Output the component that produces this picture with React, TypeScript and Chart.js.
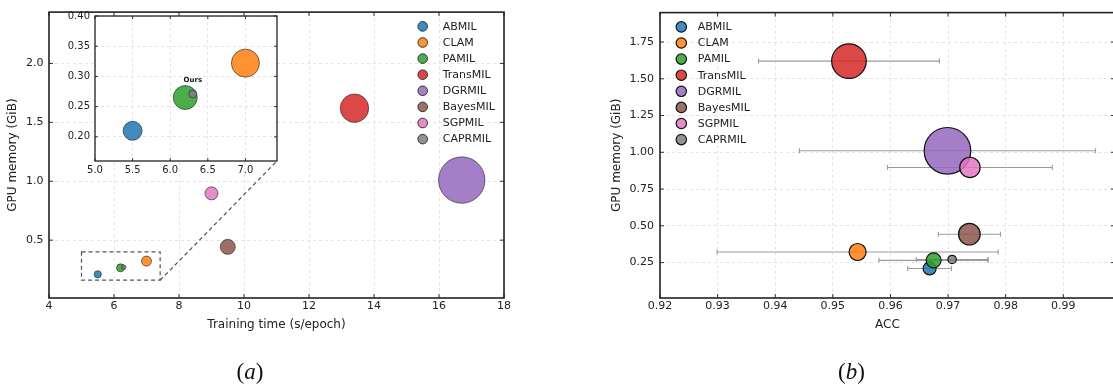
import React, { useEffect, useRef } from "react";
import { Chart, registerables } from "chart.js";

Chart.register(...registerables);

// ---------------- data ----------------
const methods = ["ABMIL", "CLAM", "PAMIL", "TransMIL", "DGRMIL", "BayesMIL", "SGPMIL", "CAPRMIL"];
const colors = ["#1f77b4", "#ff7f0e", "#2ca02c", "#d62728", "#9467bd", "#8c564b", "#e377c2", "#7f7f7f"];
const trainTime = [5.5, 7.0, 6.2, 13.4, 16.7, 9.5, 9.0, 6.3];
const gpuMemory = [0.21, 0.322, 0.265, 1.62, 1.01, 0.443, 0.897, 0.271];
const accMean = [0.9668, 0.9543, 0.9675, 0.9528, 0.9699, 0.9737, 0.9738, 0.9707];
const accStd = [0.0038, 0.0244, 0.0095, 0.0157, 0.0257, 0.0054, 0.0143, 0.0062];
// marker radii (visual encoding of each chart)
const bubbleA = [3.6, 5.0, 4.0, 14.2, 23.2, 7.5, 6.5, 2.2];
const bubbleInset = [9.5, 14.0, 12.0, 14.0, 23.0, 7.5, 6.5, 4.0];
const bubbleB = [6.5, 8.5, 7.5, 17.3, 23.3, 10.8, 10.2, 4.2];

const timeTicks = [4, 6, 8, 10, 12, 14, 16, 18];
const memTicksA = [0.5, 1.0, 1.5, 2.0];
const insetTimeTicks = [5.0, 5.5, 6.0, 6.5, 7.0];
const insetMemTicks = [0.2, 0.25, 0.3, 0.35, 0.4];
const accTicks = [0.92, 0.93, 0.94, 0.95, 0.96, 0.97, 0.98, 0.99];
const memTicksB = [0.25, 0.5, 0.75, 1.0, 1.25, 1.5, 1.75];

const rangeTimeA = [4, 18];
const rangeMemA = [0.009, 2.4355];
const zoomTime = [5.0, 7.42];
const zoomMem = [0.16, 0.4];
const rangeAcc = [0.92, 0.99898];
const rangeMemB = [0.009, 1.95];
const oursIndex = 7;
const oursLabel = "Ours";

// ---------------- layout ----------------
const FONT = "'DejaVu Sans', sans-serif";
const INSET = { left: 60, top: 5, width: 230, height: 180, padLeft: 35, padTop: 9.7, padRight: 13, xHeight: 24 };

function rgba(hex: string, a: number) {
  const n = parseInt(hex.slice(1), 16);
  return `rgba(${(n >> 16) & 255},${(n >> 8) & 255},${n & 255},${a})`;
}

function bubbleDatasets(xs: number[], ys: number[], rs: number[], edge: string, bw: number) {
  return methods.map((m, i) => ({
    label: m,
    data: [{ x: xs[i], y: ys[i], r: rs[i] }],
    backgroundColor: rgba(colors[i], 0.85),
    borderColor: edge,
    borderWidth: bw,
    order: methods.length - i,
  }));
}

function axis(range: number[], ticks: number[], dec: number, fontSize: number, pad: number, extra: any = {}) {
  return {
    type: "linear",
    min: range[0],
    max: range[1],
    afterBuildTicks: (s: any) => {
      s.ticks = ticks.map((v) => ({ value: v }));
    },
    ticks: {
      autoSkip: false,
      maxRotation: 0,
      minRotation: 0,
      padding: pad,
      color: "#222",
      font: { family: FONT, size: fontSize },
      callback: (v: any) => Number(v).toFixed(dec),
    },
    grid: { color: "#dedede", lineWidth: 0.8, drawTicks: false },
    border: { display: false, dash: [3, 3] },
    ...extra,
  };
}

const framePlugin = {
  id: "frame",
  afterDraw(chart: any, _a: any, opts: any) {
    const { ctx, chartArea } = chart;
    const { left, right, top, bottom } = chartArea;
    const xs = chart.scales.x;
    const ys = chart.scales.y;
    const L = opts.tickLen ?? 4;
    ctx.save();
    ctx.strokeStyle = "#333";
    ctx.lineWidth = opts.tickWidth ?? 1;
    ctx.beginPath();
    xs.ticks.forEach((t: any) => {
      const p = xs.getPixelForValue(t.value);
      ctx.moveTo(p, bottom);
      ctx.lineTo(p, bottom - L);
      ctx.moveTo(p, top);
      ctx.lineTo(p, top + L);
    });
    ys.ticks.forEach((t: any) => {
      const p = ys.getPixelForValue(t.value);
      ctx.moveTo(left, p);
      ctx.lineTo(left + L, p);
      ctx.moveTo(right, p);
      ctx.lineTo(right - L, p);
    });
    ctx.stroke();
    ctx.strokeStyle = "#222";
    ctx.lineWidth = opts.lineWidth ?? 1.5;
    ctx.strokeRect(left, top, right - left, bottom - top);
    ctx.restore();
  },
};

const dotLegendPlugin = {
  id: "dotLegend",
  afterDraw(chart: any, _a: any, opts: any) {
    if (!opts || !opts.show) return;
    const { ctx, chartArea } = chart;
    const x0 = opts.fromRight ? chartArea.right + opts.dx : chartArea.left + opts.dx;
    const y0 = chartArea.top + opts.dy;
    ctx.save();
    chart.data.datasets.forEach((ds: any, i: number) => {
      const y = y0 + i * opts.spacing;
      ctx.beginPath();
      ctx.arc(x0, y, opts.r, 0, Math.PI * 2);
      ctx.fillStyle = ds.backgroundColor;
      ctx.fill();
      ctx.lineWidth = opts.bw;
      ctx.strokeStyle = opts.edge;
      ctx.stroke();
      ctx.fillStyle = "#222";
      ctx.font = `${opts.fontSize}px ${FONT}`;
      ctx.textAlign = "left";
      ctx.textBaseline = "middle";
      ctx.fillText(ds.label, x0 + opts.gap, y + 0.5);
    });
    ctx.restore();
  },
};

const whiteAreaPlugin = {
  id: "whiteArea",
  beforeDraw(chart: any, _a: any, opts: any) {
    if (!opts || !opts.show) return;
    const { ctx, chartArea } = chart;
    ctx.save();
    ctx.fillStyle = "#fff";
    ctx.fillRect(chartArea.left, chartArea.top, chartArea.right - chartArea.left, chartArea.bottom - chartArea.top);
    ctx.restore();
  },
};

const zoomBoxPlugin = {
  id: "zoomBox",
  afterDatasetsDraw(chart: any, _a: any, opts: any) {
    if (!opts || !opts.show) return;
    const { ctx } = chart;
    const xs = chart.scales.x;
    const ys = chart.scales.y;
    const x0 = xs.getPixelForValue(zoomTime[0]);
    const x1 = xs.getPixelForValue(zoomTime[1]);
    const y0 = ys.getPixelForValue(zoomMem[0]);
    const y1 = ys.getPixelForValue(zoomMem[1]);
    ctx.save();
    ctx.strokeStyle = "#555";
    ctx.lineWidth = 1.2;
    ctx.setLineDash([4, 3]);
    ctx.strokeRect(x0, y1, x1 - x0, y0 - y1);
    ctx.beginPath();
    ctx.moveTo(x1, y0);
    ctx.lineTo(opts.cornerX, opts.cornerY);
    ctx.stroke();
    ctx.restore();
  },
};

const errorBarPlugin = {
  id: "errorBars",
  beforeDatasetsDraw(chart: any, _a: any, opts: any) {
    if (!opts || !opts.show) return;
    const { ctx } = chart;
    const xs = chart.scales.x;
    const ys = chart.scales.y;
    ctx.save();
    ctx.strokeStyle = "rgba(130,130,130,0.8)";
    ctx.lineWidth = 1.1;
    ctx.beginPath();
    methods.forEach((_m, i) => {
      const a = xs.getPixelForValue(accMean[i] - accStd[i]);
      const b = xs.getPixelForValue(accMean[i] + accStd[i]);
      const y = ys.getPixelForValue(gpuMemory[i]);
      ctx.moveTo(a, y);
      ctx.lineTo(b, y);
      ctx.moveTo(a, y - 2.5);
      ctx.lineTo(a, y + 2.5);
      ctx.moveTo(b, y - 2.5);
      ctx.lineTo(b, y + 2.5);
    });
    ctx.stroke();
    ctx.restore();
  },
};

const oursPlugin = {
  id: "oursLabel",
  afterDatasetsDraw(chart: any, _a: any, opts: any) {
    if (!opts || !opts.show) return;
    const { ctx } = chart;
    const x = chart.scales.x.getPixelForValue(trainTime[oursIndex]);
    const y = chart.scales.y.getPixelForValue(gpuMemory[oursIndex]);
    ctx.save();
    ctx.fillStyle = "#111";
    ctx.font = `bold 7px ${FONT}`;
    ctx.textAlign = "center";
    ctx.textBaseline = "middle";
    ctx.fillText(oursLabel, x, y - 14);
    ctx.restore();
  },
};

Chart.register(framePlugin, dotLegendPlugin, whiteAreaPlugin, zoomBoxPlugin, errorBarPlugin, oursPlugin);

function mainConfig(): any {
  return {
    type: "bubble",
    data: { datasets: bubbleDatasets(trainTime, gpuMemory, bubbleA, "rgba(40,40,40,0.8)", 0.8) },
    options: {
      animation: false,
      responsive: false,
      events: [],
      layout: { autoPadding: false, padding: { left: 0, top: 4, right: 56, bottom: 50 } },
      scales: {
        x: axis(rangeTimeA, timeTicks, 0, 11, 2, {
          afterFit: (s: any) => {
            s.height = 40;
          },
          title: {
            display: true,
            text: "Training time (s/epoch)",
            color: "#222",
            font: { family: FONT, size: 12 },
            padding: { top: 0, bottom: 5.8 },
          },
        }),
        y: axis(rangeMemA, memTicksA, 1, 11, 5.5, {
          afterFit: (s: any) => {
            s.width = 49;
          },
          title: {
            display: true,
            text: "GPU memory (GiB)",
            color: "#222",
            font: { family: FONT, size: 12 },
            padding: { top: 6.1, bottom: 0 },
          },
        }),
      },
      plugins: {
        legend: { display: false },
        tooltip: { enabled: false },
        frame: { tickLen: 4, lineWidth: 1.6 },
        dotLegend: { show: true, fromRight: true, dx: -81.3, dy: 14.3, spacing: 16.1, r: 4.8, gap: 20, fontSize: 11, bw: 1, edge: "#333" },
        zoomBox: {
          show: true,
          cornerX: INSET.left + INSET.width - INSET.padRight,
          cornerY: INSET.top + INSET.height - INSET.xHeight,
        },
      },
    },
  };
}

function insetConfig(): any {
  return {
    type: "bubble",
    data: { datasets: bubbleDatasets(trainTime, gpuMemory, bubbleInset, "rgba(40,40,40,0.8)", 0.8) },
    options: {
      animation: false,
      responsive: false,
      events: [],
      layout: { autoPadding: false, padding: { left: 0, top: INSET.padTop, right: INSET.padRight, bottom: 0 } },
      scales: {
        x: axis(zoomTime, insetTimeTicks, 1, 10, 3, {
          afterFit: (s: any) => {
            s.height = INSET.xHeight;
          },
        }),
        y: axis(zoomMem, insetMemTicks, 2, 10, 5, {
          afterFit: (s: any) => {
            s.width = INSET.padLeft;
          },
        }),
      },
      plugins: {
        legend: { display: false },
        tooltip: { enabled: false },
        whiteArea: { show: true },
        frame: { tickLen: 3, lineWidth: 1.3 },
        oursLabel: { show: true },
      },
    },
  };
}

function rightConfig(): any {
  return {
    type: "bubble",
    data: { datasets: bubbleDatasets(accMean, gpuMemory, bubbleB, "#111", 1.2) },
    options: {
      animation: false,
      responsive: false,
      events: [],
      layout: { autoPadding: false, padding: { left: 44, top: 4, right: 0, bottom: 50 } },
      scales: {
        x: axis(rangeAcc, accTicks, 2, 11, 2, {
          afterFit: (s: any) => {
            s.height = 40;
          },
          title: {
            display: true,
            text: "ACC",
            color: "#222",
            font: { family: FONT, size: 12 },
            padding: { top: 0, bottom: 5.8 },
          },
        }),
        y: axis(rangeMemB, memTicksB, 2, 11, 6, {
          afterFit: (s: any) => {
            s.width = 56;
          },
          title: {
            display: true,
            text: "GPU memory (GiB)",
            color: "#222",
            font: { family: FONT, size: 12 },
            padding: { top: 5.5, bottom: 0 },
          },
        }),
      },
      plugins: {
        legend: { display: false },
        tooltip: { enabled: false },
        frame: { tickLen: 4, lineWidth: 1.6 },
        errorBars: { show: true },
        dotLegend: { show: true, fromRight: false, dx: 21.3, dy: 14.3, spacing: 16.1, r: 5.2, gap: 16.4, fontSize: 11, bw: 1.2, edge: "#111" },
      },
    },
  };
}

const captionStyle: React.CSSProperties = {
  position: "absolute",
  top: 358,
  width: 80,
  textAlign: "center",
  fontFamily: "'Liberation Serif', 'DejaVu Serif', serif",
  fontSize: 23,
  lineHeight: "28px",
  color: "#111",
};

export default function App() {
  const mainRef = useRef<HTMLCanvasElement>(null);
  const insetRef = useRef<HTMLCanvasElement>(null);
  const rightRef = useRef<HTMLCanvasElement>(null);

  useEffect(() => {
    const charts: Chart[] = [];
    if (mainRef.current) charts.push(new Chart(mainRef.current, mainConfig()));
    if (insetRef.current) charts.push(new Chart(insetRef.current, insetConfig()));
    if (rightRef.current) charts.push(new Chart(rightRef.current, rightConfig()));
    return () => charts.forEach((c) => c.destroy());
  }, []);

  return (
    <div style={{ position: "absolute", left: 0, top: 0, width: 1113, height: 388, background: "#fff", overflow: "hidden" }}>
      <canvas ref={mainRef} width={560} height={388} style={{ position: "absolute", left: 0, top: 0, width: 560, height: 388 }} />
      <canvas
        ref={insetRef}
        width={INSET.width}
        height={INSET.height}
        style={{ position: "absolute", left: INSET.left, top: INSET.top, width: INSET.width, height: INSET.height }}
      />
      <canvas ref={rightRef} width={555} height={388} style={{ position: "absolute", left: 560, top: 0, width: 555, height: 388 }} />
      <div style={{ ...captionStyle, left: 250 - 40 }}>
        (<i>a</i>)
      </div>
      <div style={{ ...captionStyle, left: 851.5 - 40 }}>
        (<i>b</i>)
      </div>
    </div>
  );
}
